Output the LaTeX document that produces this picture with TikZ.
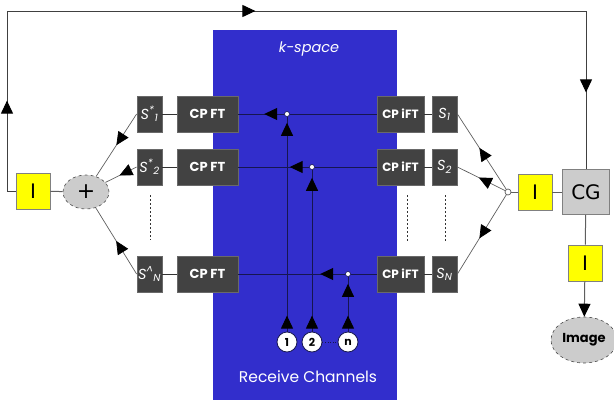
\documentclass[tikz,border=0pt]{standalone}
\usepackage{fontspec}
\setmainfont{Poppins}
\newfontfamily\dejavu{DejaVu Sans}
\usetikzlibrary{arrows.meta,decorations.markings,shapes.geometric}

\definecolor{kblue}{RGB}{50,46,204}
\definecolor{boxdark}{RGB}{66,66,66}
\definecolor{boxedge}{RGB}{105,105,105}
\definecolor{wire}{RGB}{22,22,80}
\definecolor{yel}{RGB}{255,255,0}
\definecolor{lightg}{RGB}{204,204,204}
\definecolor{gline}{RGB}{95,95,95}

\tikzset{
  arrowat/.style={postaction={decorate},
    decoration={markings, mark=at position #1 with {\arrow{Triangle[length=13pt,width=12pt,black]}}}},
  twoarrows/.style 2 args={postaction={decorate},
    decoration={markings, mark=at position #1 with {\arrow{Triangle[length=13pt,width=12pt,black]}},
                          mark=at position #2 with {\arrow{Triangle[length=13pt,width=12pt,black]}}}},
  dark/.style={rectangle, fill=boxdark, draw=boxedge, line width=0.8pt,
    text=white, minimum height=36pt, inner sep=0pt},
  sbox/.style={dark, minimum width=25pt, font=\itshape\fontsize{14.5}{14}\selectfont},
  ftbox/.style={dark, minimum width=61pt, font=\bfseries\fontsize{13}{12}\selectfont},
  iftbox/.style={dark, minimum width=47pt, font=\bfseries\fontsize{12}{12}\selectfont},
  ybox/.style={rectangle, fill=yel, draw=gray, line width=0.8pt, minimum width=34pt,
    minimum height=36pt, inner sep=0pt, font=\dejavu\fontsize{20}{20}\selectfont},
  jdot/.style={circle, fill=white, draw=wire, line width=0.6pt, minimum size=5pt, inner sep=0pt},
  chan/.style={circle, fill=white, draw=wire, line width=0.8pt, minimum size=20pt,
    inner sep=0pt, font=\bfseries\fontsize{11}{11}\selectfont},
  kwire/.style={draw=wire, line width=1pt},
  fanline/.style={draw=gline, line width=0.7pt},
  outline/.style={draw=gline, line width=1pt},
  dotline/.style={draw=black!80, line width=0.8pt, dash pattern=on 2pt off 2pt},
}

\begin{document}
\begin{tikzpicture}[x=1pt,y=-1pt]
\useasboundingbox (0,0) rectangle (614,400);

% k-space region
\fill[kblue] (213,30) rectangle (397,400);
\node[text=white, font=\itshape\fontsize{14.5}{14}\selectfont] (ksp) at (309,49) {k-space};
\node[text=white, font=\fontsize{15.5}{15}\selectfont] (rcv) at (308,377) {Receive Channels};

% left column: conjugate sensitivities and forward transforms
\node[sbox] (sl1) at (149.5,114) {S\textsuperscript{*}\textsubscript{1}};
\node[sbox] (sl2) at (149.5,167) {S\textsuperscript{*}\textsubscript{2}};
\node[sbox] (sl3) at (149.5,274) {S\textsuperscript{\textasciicircum}\textsubscript{N}};
\node[ftbox] (ft1) at (207.5,114) {CP FT};
\node[ftbox] (ft2) at (207.5,167) {CP FT};
\node[ftbox] (ft3) at (207.5,274) {CP FT};

% right column: inverse transforms and sensitivities
\node[iftbox] (ift1) at (400.5,114) {CP iFT};
\node[iftbox] (ift2) at (400.5,167) {CP iFT};
\node[iftbox] (ift3) at (400.5,274) {CP iFT};
\node[sbox] (sr1) at (444.5,114) {S\textsubscript{1}};
\node[sbox] (sr2) at (444.5,167) {S\textsubscript{2}};
\node[sbox] (sr3) at (444.5,274) {S\textsubscript{N}};

% receive channel junctions and inputs
\node[jdot] (j1) at (287,114) {};
\node[jdot] (j2) at (312,167) {};
\node[jdot] (j3) at (348,274) {};
\node[chan] (c1) at (287,342) {1};
\node[chan] (c2) at (312,342) {2};
\node[chan] (c3) at (348,342) {n};

% summation and iteration blocks
\node[ybox] (yl) at (33,191) {I};
\node[ellipse, fill=lightg, draw=black!70, dashed, line width=0.6pt, minimum width=46pt,
  minimum height=34pt, inner sep=0pt, font=\dejavu\fontsize{22}{22}\selectfont] (plus) at (86,192) {+};
\node[circle, fill=white, draw=gline, line width=0.7pt, minimum size=6pt, inner sep=0pt] (jr) at (508,192) {};
\node[ybox] (yr) at (535,192) {I};
\node[rectangle, fill=lightg, draw=gray, line width=0.8pt, minimum width=47pt,
  minimum height=45pt, inner sep=0pt, font=\dejavu\fontsize{20}{20}\selectfont] (cg) at (586,192) {CG};
\node[ybox] (yb) at (585,263) {I};
\node[ellipse, fill=lightg, draw=black!70, dashed, line width=0.6pt, minimum width=66pt,
  minimum height=46pt, inner sep=0pt, font=\bfseries\fontsize{13}{13}\selectfont] (img) at (584,340) {Image};

% k-space wiring
\draw[kwire] (ift1) -- (j1);
\draw[kwire] (ift2) -- (j2);
\draw[kwire] (ift3) -- (j3);
\draw[kwire, arrowat=20pt] (j1) -- (ft1);
\draw[kwire, arrowat=19.5pt] (j2) -- (ft2);
\draw[kwire, arrowat=25pt] (j3) -- (ft3);
\draw[kwire, twoarrows={16pt}{-6pt}] (c1) -- (j1);
\draw[kwire, twoarrows={16pt}{-8pt}] (c2) -- (j2);
\draw[kwire, twoarrows={16pt}{-7pt}] (c3) -- (j3);
\draw[draw=wire, line width=0.6pt, dotted] (c2) -- (c3);

% short links between box pairs
\draw[outline, draw=black!80] (sl1) -- (ft1);
\draw[outline, draw=black!80] (sl2) -- (ft2);
\draw[outline, draw=black!80] (sl3) -- (ft3);
\draw[outline, draw=black!80] (ift1) -- (sr1);
\draw[outline, draw=black!80] (ift2) -- (sr2);
\draw[outline, draw=black!80] (ift3) -- (sr3);

% fan-in to the sum
\draw[fanline, arrowat=0.5] (sl1.west) -- (plus);
\draw[fanline, arrowat=0.55] (sl2.west) -- (plus);
\draw[fanline, arrowat=0.5] (sl3.west) -- (plus);

% fan-out from the solver
\draw[fanline, arrowat=0.55] (jr) -- (sr1.east);
\draw[fanline, arrowat=0.55] (jr) -- (sr2.east);
\draw[fanline, arrowat=0.55] (jr) -- (sr3.east);

% continuation dots
\draw[dotline] (150,195) -- (150,240);
\draw[dotline] (407,195) -- (407,241);
\draw[dotline] (445,195) -- (445,241);

% outer connections
\draw[outline] (yl) -- (plus);
\draw[outline] (yr) -- (jr);
\draw[outline] (cg) -- (yr);
\draw[outline] (cg) -- (yb);
\draw[outline, -{Triangle[length=13pt,width=12pt,black]}] (yb) -- (img);

% feedback loop back to the solver
\coordinate (lc) at (7,11);
\draw[outline, draw=black!75, postaction={decorate}, decoration={markings,
    mark=at position 99pt with {\arrow{Triangle[length=13pt,width=12pt,black]}},
    mark=at position 437pt with {\arrow{Triangle[length=13pt,width=12pt,black]}},
    mark=at position 849pt with {\arrow{Triangle[length=13pt,width=12pt,black]}}}]
  (yl.west) -| (lc) -| (cg.north);
\end{tikzpicture}
\end{document}
